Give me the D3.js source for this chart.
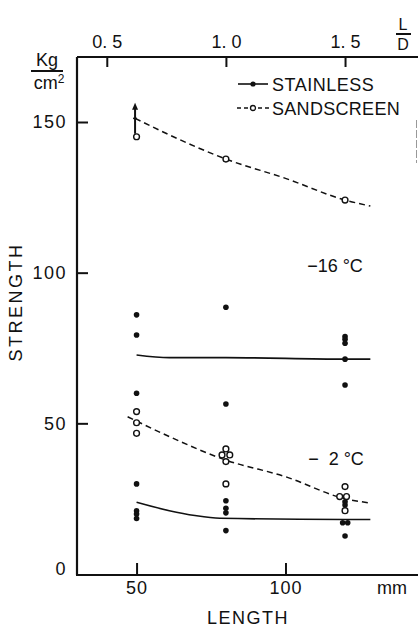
<!DOCTYPE html>
<html>
<head>
<meta charset="utf-8">
<script src="https://cdn.jsdelivr.net/npm/d3@7/dist/d3.min.js"></script>
<style>
  html, body { margin: 0; padding: 0; background: #fff; }
  svg { display: block; }
  text { font-family: "Liberation Sans", Arial, sans-serif; fill: #111; }
</style>
</head>
<body>
<svg id="chart" width="418" height="627"></svg>
<script>
// ---- data (length in mm, strength in kg/cm2) ----
const yTicks = [0, 50, 100, 150];
const xTicks = [50, 100];
const ldTicks = [0.5, 1.0, 1.5];
const ldTickLabels = ["0. 5", "1. 0", "1. 5"];
const diameterMm = 80;

// stainless, -16 °C
const stainless16 = [[50,86.0],[50,79.3],[50,60.0],[80,88.5],[80,56.4],
  [120,78.8],[120,77.9],[120,76.6],[120,71.3],[120,62.7]];
// stainless, -2 °C
const stainless2 = [[50,29.9],[50,21.0],[50,19.9],[50,18.4],
  [80,24.3],[80,21.8],[80,20.3],[80,14.4],
  [120,24.0],[120,22.9],[119.2,17.0],[120.9,17.0],[120,12.6]];
// sandscreen, -16 °C
const sand16 = [[50,145.1],[80,137.7],[120,124.1]];
const sand16Arrow = [50, 145.1, 156.4];
// sandscreen, -2 °C
const sand2 = [[50,53.9],[50,50.2],[50,46.7],
  [80,41.5],[78.7,39.5],[81.3,39.5],[80,37.3],[80,29.9],
  [120,29.0],[118.2,25.7],[120.5,25.7],[120,21.0]];

// fitted curves
const curveStainless16 = [[50,72.7],[61,71.8],[80,71.8],[120,71.3],[128.5,71.3]];
const curveStainless2 = [[50,23.8],[61,21.0],[69.6,19.4],[78,18.5],[120,18.1],[128.5,18.1]];
const curveSand16 = [[49.5,151.2],[71,141.3],[80,137.7],[100,131.3],[120,124.1],[128.5,122.1]];
const curveSand2 = [[47,52.2],[61,45.6],[80,37.8],[100,32.3],[120,25.0],[128,23.6]];

(function draw() {
const svg = d3.select("#chart");
const pL = 77, pR = 418, pT = 57, pB = 575;
const x = d3.scaleLinear().domain([30, 144.5]).range([77, 418]);
const y = d3.scaleLinear().domain([0, 150]).range([574, 122]);
const xTop = d3.scaleLinear().domain([30/diameterMm, 144.5/diameterMm]).range([77, 418]);
const ink = "#111";
const ff = '"Liberation Sans", Arial, sans-serif';

// left axis
const gy = svg.append("g").attr("transform", `translate(${pL},0)`)
  .call(d3.axisLeft(y).tickValues(yTicks).tickSize(-11).tickSizeOuter(0).tickPadding(10));
gy.select(".domain").remove();
gy.selectAll(".tick line").attr("stroke", ink).attr("stroke-width", 2);
gy.selectAll(".tick").filter(d => d === 0).select("line").remove();
gy.selectAll(".tick").filter(d => d === 0).select("text").attr("dy", "0.05em");
gy.selectAll("text").attr("font-size", 18).attr("letter-spacing", 1.5).attr("fill", ink).style("font-family", ff);

// bottom axis
const gx = svg.append("g").attr("transform", `translate(0,${pB})`)
  .call(d3.axisBottom(x).tickValues(xTicks).tickSize(-12).tickSizeOuter(0).tickPadding(6));
gx.select(".domain").remove();
gx.selectAll(".tick line").attr("stroke", ink).attr("stroke-width", 2);
gx.selectAll("text").attr("font-size", 18).attr("letter-spacing", 1).attr("fill", ink).style("font-family", ff);

// top axis (L/D)
const gt = svg.append("g").attr("transform", `translate(0,${pT})`)
  .call(d3.axisTop(xTop).tickValues(ldTicks).tickSize(-10).tickSizeOuter(0).tickPadding(9)
    .tickFormat((d, i) => ldTickLabels[i]));
gt.select(".domain").remove();
gt.selectAll(".tick line").attr("stroke", ink).attr("stroke-width", 2);
gt.selectAll("text").attr("font-size", 18).attr("fill", ink).style("font-family", ff).attr("xml:space", "preserve");

// frame lines
svg.append("path").attr("d", `M${pL},${pT}V${pB}`).attr("stroke", ink).attr("stroke-width", 2.2).attr("fill", "none");
svg.append("path").attr("d", `M${pL},${pT}H${pR}`).attr("stroke", ink).attr("stroke-width", 2).attr("fill", "none");
svg.append("path").attr("d", `M${pL - 1},${pB}H${pR}`).attr("stroke", ink).attr("stroke-width", 2).attr("fill", "none");

// axis titles
svg.append("text").attr("x", 392).attr("y", 588).attr("font-size", 18)
  .attr("text-anchor", "middle").attr("dominant-baseline", "central").text("mm");
svg.append("text").attr("x", 248).attr("y", 618).attr("font-size", 18).attr("letter-spacing", 1.5)
  .attr("text-anchor", "middle").attr("dominant-baseline", "central").text("LENGTH");
svg.append("text").attr("transform", "translate(16,302) rotate(-90)").attr("font-size", 18)
  .attr("letter-spacing", 2.5).attr("text-anchor", "middle").attr("dominant-baseline", "central").text("STRENGTH");

// units Kg / cm2
svg.append("text").attr("x", 47).attr("y", 66).attr("font-size", 18).attr("text-anchor", "middle").text("Kg");
svg.append("line").attr("x1", 31).attr("x2", 63).attr("y1", 71).attr("y2", 71).attr("stroke", ink).attr("stroke-width", 2);
const cm = svg.append("text").attr("x", 49).attr("y", 89).attr("font-size", 18).attr("text-anchor", "middle");
cm.append("tspan").text("cm");
cm.append("tspan").attr("font-size", 12).attr("dy", -6).text("2");

// L / D
svg.append("text").attr("x", 403).attr("y", 30).attr("font-size", 16).attr("text-anchor", "middle").text("L");
svg.append("line").attr("x1", 396).attr("x2", 411).attr("y1", 34).attr("y2", 34).attr("stroke", ink).attr("stroke-width", 2);
svg.append("text").attr("x", 403).attr("y", 50).attr("font-size", 16).attr("text-anchor", "middle").text("D");

// curves
const line = d3.line().x(d => x(d[0])).y(d => y(d[1])).curve(d3.curveMonotoneX);
svg.append("path").datum(curveStainless16).attr("d", line).attr("fill", "none").attr("stroke", ink).attr("stroke-width", 1.6);
svg.append("path").datum(curveStainless2).attr("d", line).attr("fill", "none").attr("stroke", ink).attr("stroke-width", 1.6);
svg.append("path").datum(curveSand16).attr("d", line).attr("fill", "none").attr("stroke", ink).attr("stroke-width", 1.5).attr("stroke-dasharray", "6,4");
svg.append("path").datum(curveSand2).attr("d", line).attr("fill", "none").attr("stroke", ink).attr("stroke-width", 1.5).attr("stroke-dasharray", "6,4");

// arrow on sandscreen -16 at 50 mm
const ax = x(sand16Arrow[0]) - 1.5;
svg.append("line").attr("x1", ax).attr("x2", ax).attr("y1", y(sand16Arrow[1]) - 3).attr("y2", y(sand16Arrow[2]) + 4)
  .attr("stroke", ink).attr("stroke-width", 2);
svg.append("path").attr("d", `M${ax - 3},${y(sand16Arrow[2]) + 7}L${ax},${y(sand16Arrow[2])}L${ax + 3},${y(sand16Arrow[2]) + 7}Z`)
  .attr("fill", ink);
svg.append("line").attr("x1", ax - 2).attr("x2", ax + 2).attr("y1", y(151.2)).attr("y2", y(151.2)).attr("stroke", ink).attr("stroke-width", 1.5);

// points
function filled(data) {
  svg.append("g").selectAll("circle").data(data).join("circle")
    .attr("cx", d => x(d[0])).attr("cy", d => y(d[1])).attr("r", 2.8).attr("fill", ink);
}
function open(data) {
  svg.append("g").selectAll("circle").data(data).join("circle")
    .attr("cx", d => x(d[0])).attr("cy", d => y(d[1])).attr("r", 2.9)
    .attr("fill", "#fff").attr("stroke", ink).attr("stroke-width", 1.4);
}
filled(stainless16);
filled(stainless2);
open(sand16);
open(sand2);

// temperature labels
svg.append("text").attr("x", 335).attr("y", 266).attr("font-size", 18).attr("text-anchor", "middle")
  .attr("dominant-baseline", "central").text("\u221216 °C");
svg.append("text").attr("x", 336).attr("y", 459).attr("font-size", 18).attr("text-anchor", "middle")
  .attr("dominant-baseline", "central").attr("xml:space", "preserve").text("\u2212  2 °C");

// legend
svg.append("line").attr("x1", 238).attr("x2", 268).attr("y1", 84).attr("y2", 84).attr("stroke", ink).attr("stroke-width", 1.6);
svg.append("circle").attr("cx", 253).attr("cy", 84).attr("r", 2.6).attr("fill", ink);
svg.append("text").attr("x", 272).attr("y", 85).attr("font-size", 18).attr("letter-spacing", 0.5)
  .attr("dominant-baseline", "central").text("STAINLESS");
svg.append("line").attr("x1", 237).attr("x2", 270).attr("y1", 108).attr("y2", 108).attr("stroke", ink).attr("stroke-width", 1.4).attr("stroke-dasharray", "4,3");
svg.append("circle").attr("cx", 253).attr("cy", 108).attr("r", 2.5).attr("fill", "#fff").attr("stroke", ink).attr("stroke-width", 1.3);
svg.append("text").attr("x", 272).attr("y", 109).attr("font-size", 18).attr("letter-spacing", 0.3)
  .attr("dominant-baseline", "central").text("SANDSCREEN");

// faint scan mark at right edge
svg.append("line").attr("x1", 416.5).attr("x2", 416.5).attr("y1", 120).attr("y2", 163)
  .attr("stroke", "#999").attr("stroke-width", 1).attr("stroke-dasharray", "8,2");
})();
</script>
</body>
</html>
